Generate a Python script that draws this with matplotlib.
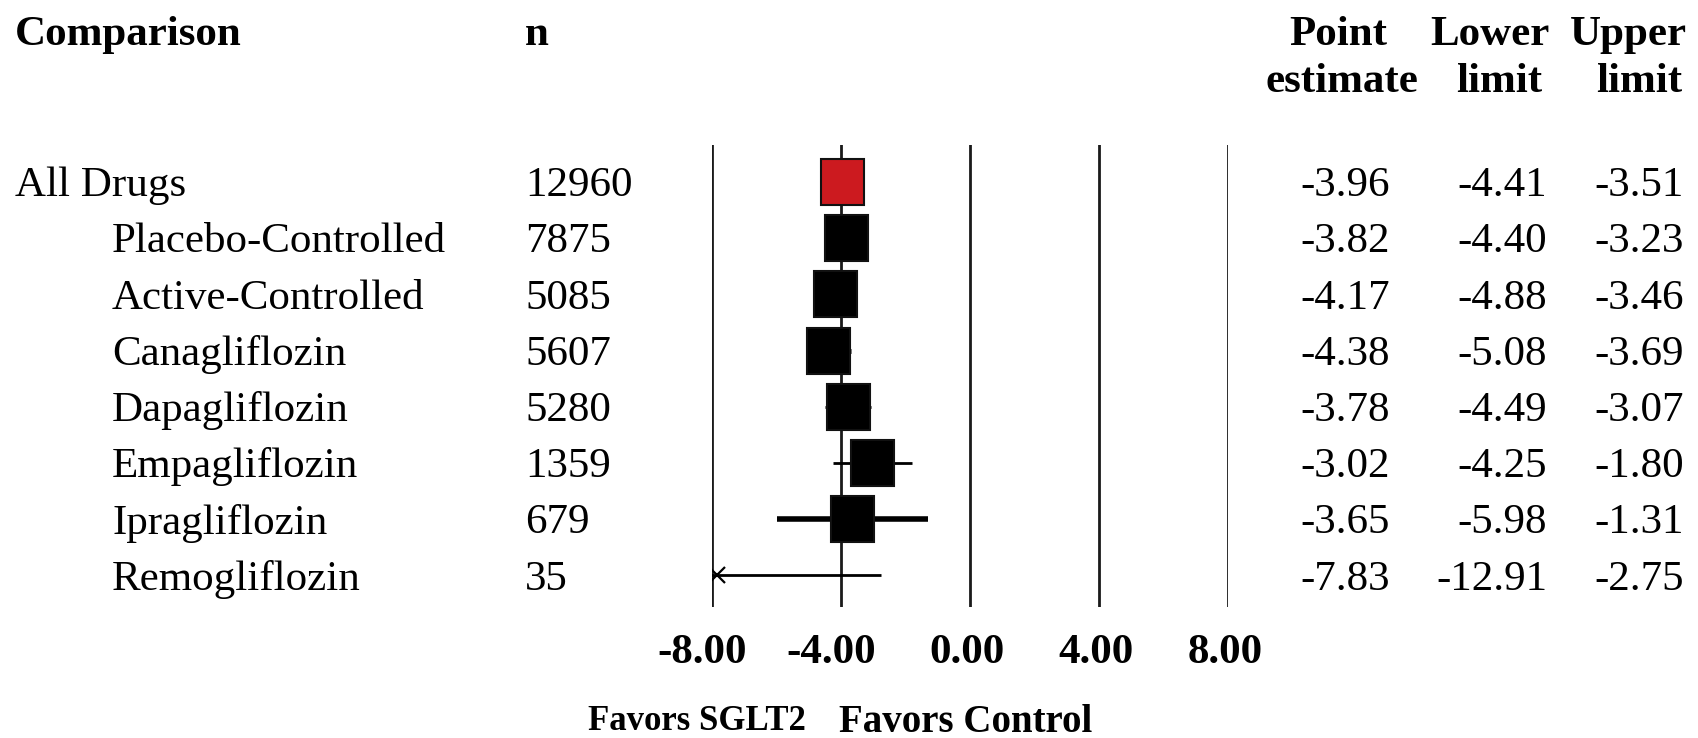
import matplotlib
matplotlib.use("Agg")
import matplotlib.pyplot as plt
from matplotlib.patches import Rectangle
from matplotlib.transforms import blended_transform_factory, offset_copy

# ---------------- data ----------------
labels = ["All Drugs", "Placebo-Controlled", "Active-Controlled", "Canagliflozin",
          "Dapagliflozin", "Empagliflozin", "Ipragliflozin", "Remogliflozin"]
indent = [False, True, True, True, True, True, True, True]
n_vals = [12960, 7875, 5085, 5607, 5280, 1359, 679, 35]
point = [-3.96, -3.82, -4.17, -4.38, -3.78, -3.02, -3.65, -7.83]
lower = [-4.41, -4.40, -4.88, -5.08, -4.49, -4.25, -5.98, -12.91]
upper = [-3.51, -3.23, -3.46, -3.69, -3.07, -1.80, -1.31, -2.75]
tick_vals = [-8, -4, 0, 4, 8]
tick_labels = ["-8.00", "-4.00", "0.00", "4.00", "8.00"]

# ---------------- styles ----------------
W, H = 1698, 738
FONT = "Liberation Serif"
FS = 31
ci_lw = [2, 2, 3, 3.5, 2, 2, 4, 2]
box_color = ["#CC1A1F"] + ["black"] * 7
box_kind = ["box"] * 7 + ["x"]

fig = plt.figure(figsize=(W / 100, H / 100), dpi=100)

# forest axes: x -8..8 spans pixels 712..1228, lines span y 145..607
x0, x1 = 712, 1228
ytop, ybot = 145, 607
ax = fig.add_axes([x0 / W, 1 - ybot / H, (x1 - x0) / W, (ybot - ytop) / H])
ax.set_xlim(-8, 8)
row_px0, row_step = 182, 56.2
ax.set_ylim((ybot - row_px0) / row_step, (ytop - row_px0) / row_step)
ax.axis("off")

px_per_unit = (x1 - x0) / 16.0
box_w = 43 / px_per_unit          # box width in data units
box_h = 46 / row_step             # box height in row units

for v in tick_vals:
    ax.axvline(v, color="#1a1a1a", lw=2, zorder=1)

for i in range(len(labels)):
    ax.plot([lower[i], upper[i]], [i, i], color="black", lw=ci_lw[i],
            solid_capstyle="butt", zorder=2)
    if box_kind[i] == "box":
        ax.add_patch(Rectangle((point[i] - box_w / 2, i - box_h / 2), box_w, box_h,
                               facecolor=box_color[i], edgecolor="#111111",
                               linewidth=1.5, zorder=3))
    else:
        ax.plot(point[i], i, marker="x", markersize=11, color="black",
                markeredgewidth=1.6, zorder=3)

# text transforms: x in figure pixels, y in row units (shifted down 4 px)
tr_rows = blended_transform_factory(fig.transFigure, ax.transData)
tr_rows = offset_copy(tr_rows, fig=fig, x=0, y=-4 * 0.72, units="points")

def fx(px):
    return px / W

def fy(py):
    return 1 - py / H

txt = dict(family=FONT, fontsize=FS, color="black")
bold = dict(family=FONT, fontsize=FS, color="black", fontweight="bold")

for i, lab in enumerate(labels):
    ax.text(fx(112 if indent[i] else 15), i, lab, transform=tr_rows,
            ha="left", va="center", **txt)
    ax.text(fx(525), i, f"{n_vals[i]}", transform=tr_rows,
            ha="left", va="center", **txt)
    ax.text(fx(1390), i, f"{point[i]:.2f}", transform=tr_rows,
            ha="right", va="center", **txt)
    ax.text(fx(1547), i, f"{lower[i]:.2f}", transform=tr_rows,
            ha="right", va="center", **txt)
    ax.text(fx(1684), i, f"{upper[i]:.2f}", transform=tr_rows,
            ha="right", va="center", **txt)

# headers
fig.text(fx(15), fy(35), "Comparison", ha="left", va="center", **bold)
fig.text(fx(525), fy(35), "n", ha="left", va="center", **bold)
fig.text(fx(1338), fy(35), "Point", ha="center", va="center", **bold)
fig.text(fx(1342), fy(82), "estimate", ha="center", va="center", **bold)
fig.text(fx(1490), fy(35), "Lower", ha="center", va="center", **bold)
fig.text(fx(1499), fy(82), "limit", ha="center", va="center", **bold)
fig.text(fx(1628), fy(35), "Upper", ha="center", va="center", **bold)
fig.text(fx(1639), fy(82), "limit", ha="center", va="center", **bold)

# tick labels (numeric part centred under each line)
tr_ticks = blended_transform_factory(ax.transData, fig.transFigure)
tr_ticks = offset_copy(tr_ticks, fig=fig, x=35 * 0.72, y=0, units="points")
for v, lab in zip(tick_vals, tick_labels):
    ax.text(v, fy(653), lab, transform=tr_ticks, ha="right", va="center",
            clip_on=False, **bold)

fig.text(fx(697), fy(722), "Favors SGLT2", ha="center", va="center",
         family=FONT, fontsize=25, fontweight="bold", color="black")
fig.text(fx(966), fy(722), "Favors Control", ha="center", va="center",
         family=FONT, fontsize=28, fontweight="bold", color="black")

fig.savefig("out.png", dpi=100, facecolor="white")
